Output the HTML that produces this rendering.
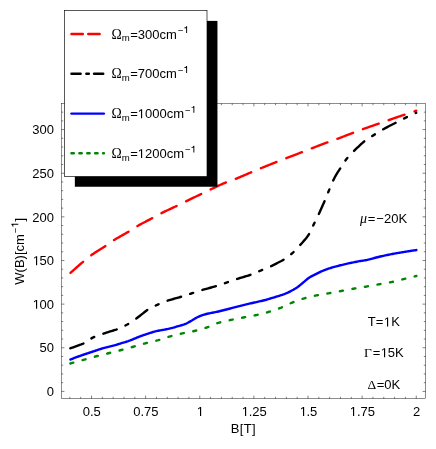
<!DOCTYPE html>
<html>
<head>
<meta charset="utf-8">
<title>W(B) plot</title>
<style>
html,body{margin:0;padding:0;background:#fff;}
body{width:436px;height:449px;overflow:hidden;font-family:"Liberation Sans", sans-serif;}
svg{display:block;will-change:transform;}
svg text{font-family:"Liberation Sans", sans-serif;font-size:13px;fill:#000;}
.tk path{stroke:#000;stroke-width:0.5;fill:none;}
.cv path{fill:none;stroke-width:2.4;stroke-linecap:round;stroke-linejoin:round;}
</style>
</head>
<body>
<svg width="436" height="449" viewBox="0 0 436 449">
<rect x="0" y="0" width="436" height="449" fill="#fff"/>

<!-- curves -->
<g class="cv">
<path d="M70.50 272.90 L71.50 271.98 L72.50 271.07 L73.50 270.17 L74.50 269.27 L75.50 268.38 L76.50 267.49 L77.50 266.61 L78.50 265.74 L79.50 264.87 L80.50 264.01 L81.50 263.16 L82.50 262.31 L83.50 261.46 L84.50 260.62 L85.50 259.77 L86.50 258.93 L87.50 258.10 L88.50 257.29 L89.50 256.50 L90.50 255.75 L91.50 255.03 L92.50 254.33 L93.50 253.65 L94.50 252.98 L95.50 252.33 L96.50 251.69 L97.50 251.06 L98.50 250.44 L99.50 249.82 L100.50 249.20 L101.50 248.57 L102.50 247.95 L103.50 247.31 L104.50 246.66 L105.50 246.00 L106.50 245.33 L107.50 244.63 L108.50 243.91 L109.50 243.19 L110.50 242.47 L111.50 241.76 L112.50 241.08 L113.50 240.43 L114.50 239.80 L115.50 239.19 L116.50 238.59 L117.50 238.00 L118.50 237.42 L119.50 236.85 L120.50 236.29 L121.50 235.73 L122.50 235.17 L123.50 234.61 L124.50 234.04 L125.50 233.47 L126.50 232.89 L127.50 232.31 L128.50 231.71 L129.50 231.10 L130.50 230.46 L131.50 229.81 L132.50 229.14 L133.50 228.48 L134.50 227.83 L135.50 227.20 L136.50 226.60 L137.50 226.02 L138.50 225.45 L139.50 224.89 L140.50 224.34 L141.50 223.80 L142.50 223.27 L143.50 222.74 L144.50 222.21 L145.50 221.69 L146.50 221.17 L147.50 220.66 L148.50 220.14 L149.50 219.61 L150.50 219.09 L151.50 218.56 L152.50 218.02 L153.50 217.48 L154.50 216.92 L155.50 216.36 L156.50 215.80 L157.50 215.24 L158.50 214.70 L159.50 214.16 L160.50 213.64 L161.50 213.14 L162.50 212.64 L163.50 212.15 L164.50 211.67 L165.50 211.19 L166.50 210.71 L167.50 210.25 L168.50 209.78 L169.50 209.32 L170.50 208.85 L171.50 208.39 L172.50 207.93 L173.50 207.46 L174.50 207.00 L175.50 206.52 L176.50 206.05 L177.50 205.57 L178.50 205.08 L179.50 204.58 L180.50 204.08 L181.50 203.58 L182.50 203.07 L183.50 202.57 L184.50 202.08 L185.50 201.59 L186.50 201.09 L187.50 200.61 L188.50 200.12 L189.50 199.63 L190.50 199.14 L191.50 198.66 L192.50 198.18 L193.50 197.69 L194.50 197.21 L195.50 196.73 L196.50 196.25 L197.50 195.77 L198.50 195.30 L199.50 194.82 L200.50 194.34 L201.50 193.87 L202.50 193.39 L203.50 192.91 L204.50 192.43 L205.50 191.95 L206.50 191.46 L207.50 190.97 L208.50 190.48 L209.50 189.99 L210.50 189.51 L211.50 189.02 L212.50 188.53 L213.50 188.05 L214.50 187.57 L215.50 187.09 L216.50 186.61 L217.50 186.14 L218.50 185.68 L219.50 185.22 L220.50 184.76 L221.50 184.32 L222.50 183.88 L223.50 183.44 L224.50 183.02 L225.50 182.60 L226.50 182.20 L227.50 181.81 L228.50 181.43 L229.50 181.08 L230.50 180.73 L231.50 180.39 L232.50 180.04 L233.50 179.68 L234.50 179.30 L235.50 178.92 L236.50 178.52 L237.50 178.12 L238.50 177.71 L239.50 177.30 L240.50 176.88 L241.50 176.46 L242.50 176.03 L243.50 175.61 L244.50 175.18 L245.50 174.75 L246.50 174.32 L247.50 173.88 L248.50 173.45 L249.50 173.02 L250.50 172.60 L251.50 172.17 L252.50 171.75 L253.50 171.33 L254.50 170.91 L255.50 170.48 L256.50 170.06 L257.50 169.64 L258.50 169.22 L259.50 168.81 L260.50 168.39 L261.50 167.99 L262.50 167.58 L263.50 167.17 L264.50 166.77 L265.50 166.36 L266.50 165.96 L267.50 165.56 L268.50 165.16 L269.50 164.76 L270.50 164.36 L271.50 163.96 L272.50 163.57 L273.50 163.17 L274.50 162.78 L275.50 162.38 L276.50 161.99 L277.50 161.60 L278.50 161.21 L279.50 160.82 L280.50 160.44 L281.50 160.05 L282.50 159.67 L283.50 159.29 L284.50 158.90 L285.50 158.51 L286.50 158.13 L287.50 157.74 L288.50 157.36 L289.50 156.97 L290.50 156.59 L291.50 156.20 L292.50 155.82 L293.50 155.43 L294.50 155.05 L295.50 154.66 L296.50 154.27 L297.50 153.89 L298.50 153.50 L299.50 153.11 L300.50 152.72 L301.50 152.33 L302.50 151.94 L303.50 151.55 L304.50 151.16 L305.50 150.77 L306.50 150.37 L307.50 149.98 L308.50 149.58 L309.50 149.19 L310.50 148.81 L311.50 148.42 L312.50 148.03 L313.50 147.65 L314.50 147.26 L315.50 146.88 L316.50 146.50 L317.50 146.12 L318.50 145.73 L319.50 145.35 L320.50 144.97 L321.50 144.60 L322.50 144.22 L323.50 143.84 L324.50 143.47 L325.50 143.10 L326.50 142.73 L327.50 142.36 L328.50 141.99 L329.50 141.63 L330.50 141.27 L331.50 140.91 L332.50 140.56 L333.50 140.21 L334.50 139.85 L335.50 139.49 L336.50 139.12 L337.50 138.76 L338.50 138.38 L339.50 138.01 L340.50 137.64 L341.50 137.26 L342.50 136.88 L343.50 136.50 L344.50 136.12 L345.50 135.74 L346.50 135.36 L347.50 134.97 L348.50 134.59 L349.50 134.21 L350.50 133.83 L351.50 133.45 L352.50 133.07 L353.50 132.69 L354.50 132.31 L355.50 131.93 L356.50 131.55 L357.50 131.17 L358.50 130.79 L359.50 130.42 L360.50 130.04 L361.50 129.67 L362.50 129.31 L363.50 128.95 L364.50 128.59 L365.50 128.23 L366.50 127.88 L367.50 127.52 L368.50 127.17 L369.50 126.82 L370.50 126.48 L371.50 126.13 L372.50 125.78 L373.50 125.43 L374.50 125.09 L375.50 124.74 L376.50 124.39 L377.50 124.04 L378.50 123.70 L379.50 123.35 L380.50 122.99 L381.50 122.64 L382.50 122.29 L383.50 121.94 L384.50 121.58 L385.50 121.23 L386.50 120.88 L387.50 120.53 L388.50 120.18 L389.50 119.83 L390.50 119.49 L391.50 119.14 L392.50 118.79 L393.50 118.45 L394.50 118.10 L395.50 117.76 L396.50 117.41 L397.50 117.07 L398.50 116.73 L399.50 116.38 L400.50 116.04 L401.50 115.70 L402.50 115.36 L403.50 115.02 L404.50 114.68 L405.50 114.34 L406.50 114.00 L407.50 113.66 L408.50 113.32 L409.50 112.98 L410.50 112.64 L411.50 112.31 L412.50 111.97 L413.50 111.64 L414.50 111.30 L415.50 110.97 L416.30 110.70" stroke="#ff0000" stroke-dasharray="16.8 10.5"/>
<path d="M70.30 348.35 L71.30 347.99 L72.30 347.63 L73.30 347.26 L74.30 346.90 L75.30 346.53 L76.30 346.16 L77.30 345.79 L78.30 345.43 L79.30 345.08 L80.30 344.73 L81.30 344.37 L82.30 343.98 L83.30 343.56 L84.30 343.10 L85.30 342.55 L86.30 341.92 L87.30 341.23 L88.30 340.51 L89.30 339.78 L90.30 339.08 L91.30 338.43 L92.30 337.85 L93.30 337.37 L94.30 336.93 L95.30 336.52 L96.30 336.14 L97.30 335.78 L98.30 335.43 L99.30 335.09 L100.30 334.75 L101.30 334.41 L102.30 334.06 L103.30 333.72 L104.30 333.38 L105.30 333.04 L106.30 332.71 L107.30 332.38 L108.30 332.05 L109.30 331.73 L110.30 331.40 L111.30 331.09 L112.30 330.78 L113.30 330.48 L114.30 330.18 L115.30 329.86 L116.30 329.53 L117.30 329.17 L118.30 328.79 L119.30 328.39 L120.30 327.97 L121.30 327.53 L122.30 327.07 L123.30 326.59 L124.30 326.10 L125.30 325.59 L126.30 325.06 L127.30 324.52 L128.30 323.94 L129.30 323.33 L130.30 322.70 L131.30 322.05 L132.30 321.38 L133.30 320.70 L134.30 320.00 L135.30 319.30 L136.30 318.57 L137.30 317.81 L138.30 317.03 L139.30 316.23 L140.30 315.44 L141.30 314.65 L142.30 313.87 L143.30 313.07 L144.30 312.27 L145.30 311.47 L146.30 310.72 L147.30 310.02 L148.30 309.39 L149.30 308.80 L150.30 308.24 L151.30 307.70 L152.30 307.19 L153.30 306.69 L154.30 306.21 L155.30 305.74 L156.30 305.28 L157.30 304.82 L158.30 304.36 L159.30 303.92 L160.30 303.48 L161.30 303.05 L162.30 302.63 L163.30 302.23 L164.30 301.84 L165.30 301.46 L166.30 301.10 L167.30 300.77 L168.30 300.45 L169.30 300.15 L170.30 299.85 L171.30 299.57 L172.30 299.29 L173.30 299.00 L174.30 298.71 L175.30 298.42 L176.30 298.14 L177.30 297.85 L178.30 297.57 L179.30 297.28 L180.30 296.99 L181.30 296.69 L182.30 296.39 L183.30 296.08 L184.30 295.76 L185.30 295.44 L186.30 295.12 L187.30 294.80 L188.30 294.47 L189.30 294.15 L190.30 293.82 L191.30 293.50 L192.30 293.18 L193.30 292.85 L194.30 292.52 L195.30 292.19 L196.30 291.85 L197.30 291.53 L198.30 291.20 L199.30 290.88 L200.30 290.57 L201.30 290.26 L202.30 289.96 L203.30 289.68 L204.30 289.39 L205.30 289.12 L206.30 288.84 L207.30 288.57 L208.30 288.29 L209.30 288.02 L210.30 287.74 L211.30 287.47 L212.30 287.20 L213.30 286.92 L214.30 286.64 L215.30 286.36 L216.30 286.06 L217.30 285.75 L218.30 285.43 L219.30 285.10 L220.30 284.76 L221.30 284.41 L222.30 284.06 L223.30 283.71 L224.30 283.36 L225.30 283.01 L226.30 282.67 L227.30 282.32 L228.30 281.97 L229.30 281.61 L230.30 281.26 L231.30 280.91 L232.30 280.55 L233.30 280.21 L234.30 279.86 L235.30 279.53 L236.30 279.20 L237.30 278.89 L238.30 278.58 L239.30 278.27 L240.30 277.97 L241.30 277.67 L242.30 277.37 L243.30 277.06 L244.30 276.76 L245.30 276.46 L246.30 276.16 L247.30 275.86 L248.30 275.56 L249.30 275.24 L250.30 274.91 L251.30 274.56 L252.30 274.18 L253.30 273.78 L254.30 273.36 L255.30 272.93 L256.30 272.49 L257.30 272.04 L258.30 271.60 L259.30 271.16 L260.30 270.73 L261.30 270.31 L262.30 269.90 L263.30 269.49 L264.30 269.08 L265.30 268.68 L266.30 268.27 L267.30 267.85 L268.30 267.42 L269.30 266.98 L270.30 266.53 L271.30 266.06 L272.30 265.57 L273.30 265.08 L274.30 264.58 L275.30 264.07 L276.30 263.56 L277.30 263.05 L278.30 262.54 L279.30 262.04 L280.30 261.53 L281.30 261.01 L282.30 260.46 L283.30 259.89 L284.30 259.27 L285.30 258.62 L286.30 257.94 L287.30 257.22 L288.30 256.47 L289.30 255.69 L290.30 254.88 L291.30 254.04 L292.30 253.18 L293.30 252.27 L294.30 251.30 L295.30 250.27 L296.30 249.21 L297.30 248.12 L298.30 247.02 L299.30 245.93 L300.30 244.86 L301.30 243.79 L302.30 242.70 L303.30 241.57 L304.30 240.39 L305.30 239.19 L306.30 237.96 L307.30 236.66 L308.30 235.25 L309.30 233.70 L310.30 231.88 L311.30 229.78 L312.30 227.56 L313.30 225.35 L314.30 223.26 L315.30 221.22 L316.30 219.19 L317.30 217.14 L318.30 215.05 L319.30 212.91 L320.30 210.74 L321.30 208.53 L322.30 206.30 L323.30 204.03 L324.30 201.73 L325.30 199.38 L326.30 196.97 L327.30 194.52 L328.30 192.07 L329.30 189.63 L330.30 187.15 L331.30 184.70 L332.30 182.38 L333.30 180.23 L334.30 178.21 L335.30 176.31 L336.30 174.53 L337.30 172.89 L338.30 171.35 L339.30 169.86 L340.30 168.35 L341.30 166.80 L342.30 165.20 L343.30 163.61 L344.30 162.06 L345.30 160.59 L346.30 159.23 L347.30 157.99 L348.30 156.83 L349.30 155.72 L350.30 154.66 L351.30 153.63 L352.30 152.61 L353.30 151.60 L354.30 150.59 L355.30 149.61 L356.30 148.64 L357.30 147.70 L358.30 146.76 L359.30 145.84 L360.30 144.91 L361.30 143.98 L362.30 143.08 L363.30 142.21 L364.30 141.39 L365.30 140.62 L366.30 139.90 L367.30 139.21 L368.30 138.55 L369.30 137.90 L370.30 137.27 L371.30 136.65 L372.30 136.02 L373.30 135.39 L374.30 134.75 L375.30 134.11 L376.30 133.47 L377.30 132.84 L378.30 132.21 L379.30 131.59 L380.30 130.98 L381.30 130.38 L382.30 129.80 L383.30 129.23 L384.30 128.68 L385.30 128.13 L386.30 127.60 L387.30 127.07 L388.30 126.55 L389.30 126.03 L390.30 125.51 L391.30 125.00 L392.30 124.49 L393.30 123.99 L394.30 123.48 L395.30 122.96 L396.30 122.45 L397.30 121.93 L398.30 121.41 L399.30 120.89 L400.30 120.37 L401.30 119.86 L402.30 119.34 L403.30 118.84 L404.30 118.34 L405.30 117.85 L406.30 117.36 L407.30 116.88 L408.30 116.41 L409.30 115.93 L410.30 115.47 L411.30 115.00 L412.30 114.54 L413.30 114.09 L414.30 113.64 L415.30 113.20 L416.20 112.80" stroke="#000000" stroke-dasharray="14 9.5 3.2 9.7"/>
<path d="M70.35 359.55 L71.35 359.15 L72.35 358.76 L73.35 358.37 L74.35 357.99 L75.35 357.61 L76.35 357.24 L77.35 356.87 L78.35 356.50 L79.35 356.15 L80.35 355.79 L81.35 355.45 L82.35 355.10 L83.35 354.76 L84.35 354.43 L85.35 354.09 L86.35 353.76 L87.35 353.43 L88.35 353.10 L89.35 352.76 L90.35 352.43 L91.35 352.10 L92.35 351.76 L93.35 351.42 L94.35 351.08 L95.35 350.74 L96.35 350.40 L97.35 350.06 L98.35 349.73 L99.35 349.40 L100.35 349.08 L101.35 348.76 L102.35 348.46 L103.35 348.16 L104.35 347.88 L105.35 347.61 L106.35 347.36 L107.35 347.11 L108.35 346.86 L109.35 346.62 L110.35 346.38 L111.35 346.14 L112.35 345.89 L113.35 345.64 L114.35 345.38 L115.35 345.11 L116.35 344.82 L117.35 344.51 L118.35 344.20 L119.35 343.87 L120.35 343.54 L121.35 343.22 L122.35 342.90 L123.35 342.60 L124.35 342.32 L125.35 342.03 L126.35 341.74 L127.35 341.43 L128.35 341.10 L129.35 340.74 L130.35 340.36 L131.35 339.95 L132.35 339.53 L133.35 339.11 L134.35 338.69 L135.35 338.29 L136.35 337.87 L137.35 337.46 L138.35 337.04 L139.35 336.64 L140.35 336.25 L141.35 335.89 L142.35 335.54 L143.35 335.20 L144.35 334.87 L145.35 334.55 L146.35 334.23 L147.35 333.90 L148.35 333.57 L149.35 333.23 L150.35 332.89 L151.35 332.57 L152.35 332.25 L153.35 331.96 L154.35 331.69 L155.35 331.43 L156.35 331.18 L157.35 330.94 L158.35 330.71 L159.35 330.50 L160.35 330.31 L161.35 330.13 L162.35 329.97 L163.35 329.81 L164.35 329.65 L165.35 329.47 L166.35 329.28 L167.35 329.08 L168.35 328.86 L169.35 328.64 L170.35 328.41 L171.35 328.17 L172.35 327.91 L173.35 327.64 L174.35 327.34 L175.35 327.03 L176.35 326.71 L177.35 326.40 L178.35 326.09 L179.35 325.81 L180.35 325.54 L181.35 325.28 L182.35 325.00 L183.35 324.71 L184.35 324.38 L185.35 323.99 L186.35 323.54 L187.35 323.03 L188.35 322.48 L189.35 321.92 L190.35 321.36 L191.35 320.80 L192.35 320.20 L193.35 319.58 L194.35 318.96 L195.35 318.35 L196.35 317.78 L197.35 317.28 L198.35 316.81 L199.35 316.37 L200.35 315.95 L201.35 315.56 L202.35 315.20 L203.35 314.87 L204.35 314.56 L205.35 314.28 L206.35 314.01 L207.35 313.77 L208.35 313.53 L209.35 313.31 L210.35 313.09 L211.35 312.90 L212.35 312.72 L213.35 312.54 L214.35 312.36 L215.35 312.16 L216.35 311.95 L217.35 311.73 L218.35 311.51 L219.35 311.27 L220.35 311.03 L221.35 310.78 L222.35 310.53 L223.35 310.28 L224.35 310.02 L225.35 309.76 L226.35 309.50 L227.35 309.25 L228.35 308.99 L229.35 308.73 L230.35 308.47 L231.35 308.20 L232.35 307.93 L233.35 307.66 L234.35 307.38 L235.35 307.11 L236.35 306.84 L237.35 306.57 L238.35 306.30 L239.35 306.04 L240.35 305.79 L241.35 305.54 L242.35 305.30 L243.35 305.06 L244.35 304.82 L245.35 304.59 L246.35 304.36 L247.35 304.13 L248.35 303.90 L249.35 303.68 L250.35 303.45 L251.35 303.22 L252.35 302.99 L253.35 302.76 L254.35 302.53 L255.35 302.31 L256.35 302.08 L257.35 301.86 L258.35 301.64 L259.35 301.42 L260.35 301.20 L261.35 300.97 L262.35 300.74 L263.35 300.50 L264.35 300.25 L265.35 299.99 L266.35 299.73 L267.35 299.44 L268.35 299.14 L269.35 298.83 L270.35 298.52 L271.35 298.21 L272.35 297.90 L273.35 297.61 L274.35 297.31 L275.35 297.01 L276.35 296.71 L277.35 296.41 L278.35 296.10 L279.35 295.78 L280.35 295.46 L281.35 295.14 L282.35 294.81 L283.35 294.46 L284.35 294.09 L285.35 293.69 L286.35 293.26 L287.35 292.81 L288.35 292.34 L289.35 291.84 L290.35 291.33 L291.35 290.81 L292.35 290.28 L293.35 289.73 L294.35 289.15 L295.35 288.55 L296.35 287.91 L297.35 287.25 L298.35 286.52 L299.35 285.73 L300.35 284.91 L301.35 284.06 L302.35 283.22 L303.35 282.39 L304.35 281.56 L305.35 280.70 L306.35 279.84 L307.35 279.00 L308.35 278.21 L309.35 277.51 L310.35 276.90 L311.35 276.35 L312.35 275.85 L313.35 275.37 L314.35 274.90 L315.35 274.42 L316.35 273.92 L317.35 273.41 L318.35 272.90 L319.35 272.39 L320.35 271.90 L321.35 271.43 L322.35 270.99 L323.35 270.57 L324.35 270.17 L325.35 269.78 L326.35 269.41 L327.35 269.05 L328.35 268.70 L329.35 268.37 L330.35 268.04 L331.35 267.73 L332.35 267.43 L333.35 267.13 L334.35 266.85 L335.35 266.57 L336.35 266.30 L337.35 266.04 L338.35 265.79 L339.35 265.53 L340.35 265.29 L341.35 265.04 L342.35 264.79 L343.35 264.55 L344.35 264.31 L345.35 264.07 L346.35 263.84 L347.35 263.62 L348.35 263.40 L349.35 263.18 L350.35 262.97 L351.35 262.77 L352.35 262.56 L353.35 262.36 L354.35 262.16 L355.35 261.96 L356.35 261.76 L357.35 261.56 L358.35 261.38 L359.35 261.19 L360.35 261.02 L361.35 260.87 L362.35 260.72 L363.35 260.57 L364.35 260.42 L365.35 260.25 L366.35 260.06 L367.35 259.85 L368.35 259.62 L369.35 259.38 L370.35 259.12 L371.35 258.85 L372.35 258.58 L373.35 258.30 L374.35 258.03 L375.35 257.75 L376.35 257.49 L377.35 257.23 L378.35 256.99 L379.35 256.75 L380.35 256.52 L381.35 256.29 L382.35 256.06 L383.35 255.84 L384.35 255.62 L385.35 255.40 L386.35 255.18 L387.35 254.97 L388.35 254.76 L389.35 254.56 L390.35 254.36 L391.35 254.16 L392.35 253.97 L393.35 253.78 L394.35 253.60 L395.35 253.42 L396.35 253.24 L397.35 253.07 L398.35 252.90 L399.35 252.72 L400.35 252.56 L401.35 252.39 L402.35 252.22 L403.35 252.06 L404.35 251.89 L405.35 251.73 L406.35 251.57 L407.35 251.41 L408.35 251.26 L409.35 251.10 L410.35 250.95 L411.35 250.79 L412.35 250.64 L413.35 250.49 L414.35 250.35 L415.35 250.20 L416.35 250.06 L416.40 250.05" stroke="#0000ff"/>
<path d="M70.35 363.50 L71.35 363.20 L72.35 362.91 L73.35 362.63 L74.35 362.36 L75.35 362.08 L76.35 361.81 L77.35 361.54 L78.35 361.27 L79.35 361.01 L80.35 360.74 L81.35 360.47 L82.35 360.20 L83.35 359.92 L84.35 359.65 L85.35 359.37 L86.35 359.08 L87.35 358.79 L88.35 358.51 L89.35 358.22 L90.35 357.93 L91.35 357.64 L92.35 357.36 L93.35 357.08 L94.35 356.80 L95.35 356.53 L96.35 356.26 L97.35 356.00 L98.35 355.74 L99.35 355.49 L100.35 355.23 L101.35 354.99 L102.35 354.74 L103.35 354.49 L104.35 354.25 L105.35 354.00 L106.35 353.76 L107.35 353.51 L108.35 353.26 L109.35 353.01 L110.35 352.76 L111.35 352.52 L112.35 352.27 L113.35 352.02 L114.35 351.78 L115.35 351.53 L116.35 351.28 L117.35 351.03 L118.35 350.78 L119.35 350.53 L120.35 350.27 L121.35 350.01 L122.35 349.75 L123.35 349.48 L124.35 349.21 L125.35 348.94 L126.35 348.67 L127.35 348.40 L128.35 348.12 L129.35 347.84 L130.35 347.57 L131.35 347.29 L132.35 347.01 L133.35 346.73 L134.35 346.45 L135.35 346.16 L136.35 345.86 L137.35 345.57 L138.35 345.27 L139.35 344.98 L140.35 344.68 L141.35 344.39 L142.35 344.11 L143.35 343.83 L144.35 343.55 L145.35 343.29 L146.35 343.03 L147.35 342.79 L148.35 342.55 L149.35 342.32 L150.35 342.09 L151.35 341.87 L152.35 341.64 L153.35 341.41 L154.35 341.18 L155.35 340.93 L156.35 340.68 L157.35 340.42 L158.35 340.15 L159.35 339.85 L160.35 339.54 L161.35 339.22 L162.35 338.88 L163.35 338.54 L164.35 338.20 L165.35 337.87 L166.35 337.54 L167.35 337.21 L168.35 336.91 L169.35 336.61 L170.35 336.34 L171.35 336.06 L172.35 335.79 L173.35 335.53 L174.35 335.27 L175.35 335.02 L176.35 334.77 L177.35 334.53 L178.35 334.29 L179.35 334.05 L180.35 333.82 L181.35 333.59 L182.35 333.37 L183.35 333.15 L184.35 332.95 L185.35 332.75 L186.35 332.56 L187.35 332.38 L188.35 332.19 L189.35 332.00 L190.35 331.81 L191.35 331.62 L192.35 331.42 L193.35 331.21 L194.35 330.98 L195.35 330.74 L196.35 330.50 L197.35 330.24 L198.35 329.98 L199.35 329.70 L200.35 329.42 L201.35 329.13 L202.35 328.84 L203.35 328.53 L204.35 328.22 L205.35 327.90 L206.35 327.58 L207.35 327.25 L208.35 326.89 L209.35 326.50 L210.35 326.09 L211.35 325.67 L212.35 325.25 L213.35 324.82 L214.35 324.40 L215.35 323.99 L216.35 323.60 L217.35 323.23 L218.35 322.90 L219.35 322.60 L220.35 322.32 L221.35 322.06 L222.35 321.80 L223.35 321.56 L224.35 321.33 L225.35 321.11 L226.35 320.89 L227.35 320.67 L228.35 320.46 L229.35 320.25 L230.35 320.04 L231.35 319.83 L232.35 319.62 L233.35 319.41 L234.35 319.21 L235.35 319.01 L236.35 318.81 L237.35 318.61 L238.35 318.42 L239.35 318.23 L240.35 318.04 L241.35 317.85 L242.35 317.66 L243.35 317.47 L244.35 317.28 L245.35 317.09 L246.35 316.91 L247.35 316.73 L248.35 316.56 L249.35 316.38 L250.35 316.21 L251.35 316.03 L252.35 315.84 L253.35 315.65 L254.35 315.46 L255.35 315.26 L256.35 315.05 L257.35 314.83 L258.35 314.60 L259.35 314.37 L260.35 314.13 L261.35 313.89 L262.35 313.64 L263.35 313.38 L264.35 313.12 L265.35 312.85 L266.35 312.58 L267.35 312.30 L268.35 312.01 L269.35 311.72 L270.35 311.42 L271.35 311.12 L272.35 310.80 L273.35 310.48 L274.35 310.15 L275.35 309.81 L276.35 309.46 L277.35 309.10 L278.35 308.74 L279.35 308.36 L280.35 307.98 L281.35 307.58 L282.35 307.15 L283.35 306.70 L284.35 306.23 L285.35 305.75 L286.35 305.27 L287.35 304.79 L288.35 304.31 L289.35 303.84 L290.35 303.38 L291.35 302.95 L292.35 302.54 L293.35 302.14 L294.35 301.75 L295.35 301.36 L296.35 300.98 L297.35 300.61 L298.35 300.25 L299.35 299.89 L300.35 299.55 L301.35 299.21 L302.35 298.89 L303.35 298.59 L304.35 298.30 L305.35 298.02 L306.35 297.75 L307.35 297.49 L308.35 297.23 L309.35 296.98 L310.35 296.74 L311.35 296.51 L312.35 296.28 L313.35 296.06 L314.35 295.85 L315.35 295.64 L316.35 295.43 L317.35 295.23 L318.35 295.04 L319.35 294.86 L320.35 294.68 L321.35 294.51 L322.35 294.34 L323.35 294.17 L324.35 294.01 L325.35 293.84 L326.35 293.67 L327.35 293.51 L328.35 293.33 L329.35 293.16 L330.35 292.97 L331.35 292.79 L332.35 292.61 L333.35 292.43 L334.35 292.24 L335.35 292.06 L336.35 291.87 L337.35 291.69 L338.35 291.50 L339.35 291.32 L340.35 291.13 L341.35 290.95 L342.35 290.76 L343.35 290.57 L344.35 290.39 L345.35 290.20 L346.35 290.01 L347.35 289.82 L348.35 289.63 L349.35 289.44 L350.35 289.26 L351.35 289.07 L352.35 288.89 L353.35 288.71 L354.35 288.54 L355.35 288.37 L356.35 288.20 L357.35 288.03 L358.35 287.87 L359.35 287.71 L360.35 287.54 L361.35 287.38 L362.35 287.22 L363.35 287.06 L364.35 286.89 L365.35 286.73 L366.35 286.56 L367.35 286.39 L368.35 286.22 L369.35 286.04 L370.35 285.87 L371.35 285.69 L372.35 285.51 L373.35 285.34 L374.35 285.16 L375.35 284.98 L376.35 284.80 L377.35 284.62 L378.35 284.44 L379.35 284.25 L380.35 284.08 L381.35 283.90 L382.35 283.72 L383.35 283.55 L384.35 283.37 L385.35 283.19 L386.35 283.01 L387.35 282.83 L388.35 282.64 L389.35 282.45 L390.35 282.26 L391.35 282.05 L392.35 281.84 L393.35 281.62 L394.35 281.39 L395.35 281.15 L396.35 280.91 L397.35 280.66 L398.35 280.41 L399.35 280.16 L400.35 279.91 L401.35 279.66 L402.35 279.41 L403.35 279.16 L404.35 278.91 L405.35 278.67 L406.35 278.42 L407.35 278.16 L408.35 277.91 L409.35 277.66 L410.35 277.41 L411.35 277.16 L412.35 276.91 L413.35 276.67 L414.35 276.44 L415.35 276.22 L416.35 276.01 L416.40 276.00" stroke="#008600" stroke-dasharray="3.1 9.61"/>
</g>

<!-- frame -->
<rect x="61.5" y="103.5" width="364.0" height="295.0" fill="none" stroke="#000" stroke-width="0.45"/>
<g class="tk">
<path d="M69.85 398.5 v-1.7"/>
<path d="M69.85 103.5 v1.7"/>
<path d="M80.67 398.5 v-1.7"/>
<path d="M80.67 103.5 v1.7"/>
<path d="M91.50 398.5 v-2.9"/>
<path d="M91.50 103.5 v2.9"/>
<path d="M102.33 398.5 v-1.7"/>
<path d="M102.33 103.5 v1.7"/>
<path d="M113.15 398.5 v-1.7"/>
<path d="M113.15 103.5 v1.7"/>
<path d="M123.97 398.5 v-1.7"/>
<path d="M123.97 103.5 v1.7"/>
<path d="M134.80 398.5 v-1.7"/>
<path d="M134.80 103.5 v1.7"/>
<path d="M145.62 398.5 v-2.9"/>
<path d="M145.62 103.5 v2.9"/>
<path d="M156.45 398.5 v-1.7"/>
<path d="M156.45 103.5 v1.7"/>
<path d="M167.28 398.5 v-1.7"/>
<path d="M167.28 103.5 v1.7"/>
<path d="M178.10 398.5 v-1.7"/>
<path d="M178.10 103.5 v1.7"/>
<path d="M188.93 398.5 v-1.7"/>
<path d="M188.93 103.5 v1.7"/>
<path d="M199.75 398.5 v-2.9"/>
<path d="M199.75 103.5 v2.9"/>
<path d="M210.57 398.5 v-1.7"/>
<path d="M210.57 103.5 v1.7"/>
<path d="M221.40 398.5 v-1.7"/>
<path d="M221.40 103.5 v1.7"/>
<path d="M232.22 398.5 v-1.7"/>
<path d="M232.22 103.5 v1.7"/>
<path d="M243.05 398.5 v-1.7"/>
<path d="M243.05 103.5 v1.7"/>
<path d="M253.88 398.5 v-2.9"/>
<path d="M253.88 103.5 v2.9"/>
<path d="M264.70 398.5 v-1.7"/>
<path d="M264.70 103.5 v1.7"/>
<path d="M275.52 398.5 v-1.7"/>
<path d="M275.52 103.5 v1.7"/>
<path d="M286.35 398.5 v-1.7"/>
<path d="M286.35 103.5 v1.7"/>
<path d="M297.18 398.5 v-1.7"/>
<path d="M297.18 103.5 v1.7"/>
<path d="M308.00 398.5 v-2.9"/>
<path d="M308.00 103.5 v2.9"/>
<path d="M318.83 398.5 v-1.7"/>
<path d="M318.83 103.5 v1.7"/>
<path d="M329.65 398.5 v-1.7"/>
<path d="M329.65 103.5 v1.7"/>
<path d="M340.48 398.5 v-1.7"/>
<path d="M340.48 103.5 v1.7"/>
<path d="M351.30 398.5 v-1.7"/>
<path d="M351.30 103.5 v1.7"/>
<path d="M362.12 398.5 v-2.9"/>
<path d="M362.12 103.5 v2.9"/>
<path d="M372.95 398.5 v-1.7"/>
<path d="M372.95 103.5 v1.7"/>
<path d="M383.78 398.5 v-1.7"/>
<path d="M383.78 103.5 v1.7"/>
<path d="M394.60 398.5 v-1.7"/>
<path d="M394.60 103.5 v1.7"/>
<path d="M405.43 398.5 v-1.7"/>
<path d="M405.43 103.5 v1.7"/>
<path d="M416.25 398.5 v-2.9"/>
<path d="M416.25 103.5 v2.9"/>
<path d="M61.5 391.40 h2.9"/>
<path d="M425.5 391.40 h-2.9"/>
<path d="M61.5 382.67 h1.7"/>
<path d="M425.5 382.67 h-1.7"/>
<path d="M61.5 373.95 h1.7"/>
<path d="M425.5 373.95 h-1.7"/>
<path d="M61.5 365.22 h1.7"/>
<path d="M425.5 365.22 h-1.7"/>
<path d="M61.5 356.49 h1.7"/>
<path d="M425.5 356.49 h-1.7"/>
<path d="M61.5 347.76 h2.9"/>
<path d="M425.5 347.76 h-2.9"/>
<path d="M61.5 339.04 h1.7"/>
<path d="M425.5 339.04 h-1.7"/>
<path d="M61.5 330.31 h1.7"/>
<path d="M425.5 330.31 h-1.7"/>
<path d="M61.5 321.58 h1.7"/>
<path d="M425.5 321.58 h-1.7"/>
<path d="M61.5 312.86 h1.7"/>
<path d="M425.5 312.86 h-1.7"/>
<path d="M61.5 304.13 h2.9"/>
<path d="M425.5 304.13 h-2.9"/>
<path d="M61.5 295.40 h1.7"/>
<path d="M425.5 295.40 h-1.7"/>
<path d="M61.5 286.68 h1.7"/>
<path d="M425.5 286.68 h-1.7"/>
<path d="M61.5 277.95 h1.7"/>
<path d="M425.5 277.95 h-1.7"/>
<path d="M61.5 269.22 h1.7"/>
<path d="M425.5 269.22 h-1.7"/>
<path d="M61.5 260.50 h2.9"/>
<path d="M425.5 260.50 h-2.9"/>
<path d="M61.5 251.77 h1.7"/>
<path d="M425.5 251.77 h-1.7"/>
<path d="M61.5 243.04 h1.7"/>
<path d="M425.5 243.04 h-1.7"/>
<path d="M61.5 234.31 h1.7"/>
<path d="M425.5 234.31 h-1.7"/>
<path d="M61.5 225.59 h1.7"/>
<path d="M425.5 225.59 h-1.7"/>
<path d="M61.5 216.86 h2.9"/>
<path d="M425.5 216.86 h-2.9"/>
<path d="M61.5 208.13 h1.7"/>
<path d="M425.5 208.13 h-1.7"/>
<path d="M61.5 199.41 h1.7"/>
<path d="M425.5 199.41 h-1.7"/>
<path d="M61.5 190.68 h1.7"/>
<path d="M425.5 190.68 h-1.7"/>
<path d="M61.5 181.95 h1.7"/>
<path d="M425.5 181.95 h-1.7"/>
<path d="M61.5 173.22 h2.9"/>
<path d="M425.5 173.22 h-2.9"/>
<path d="M61.5 164.50 h1.7"/>
<path d="M425.5 164.50 h-1.7"/>
<path d="M61.5 155.77 h1.7"/>
<path d="M425.5 155.77 h-1.7"/>
<path d="M61.5 147.04 h1.7"/>
<path d="M425.5 147.04 h-1.7"/>
<path d="M61.5 138.32 h1.7"/>
<path d="M425.5 138.32 h-1.7"/>
<path d="M61.5 129.59 h2.9"/>
<path d="M425.5 129.59 h-2.9"/>
<path d="M61.5 120.86 h1.7"/>
<path d="M425.5 120.86 h-1.7"/>
<path d="M61.5 112.14 h1.7"/>
<path d="M425.5 112.14 h-1.7"/>
</g>

<!-- tick labels -->
<g>
<text x="82.76" y="416.00">0.5</text>
<text x="133.27" y="416.00">0.75</text>
<path d="M515 0 V1237 L197 1010 V1180 L530 1409 H696 V0 Z" transform="translate(196.73 416.00) scale(0.006348 -0.006348)"/>
<path d="M515 0 V1237 L197 1010 V1180 L530 1409 H696 V0 Z" transform="translate(241.73 416.00) scale(0.006348 -0.006348)"/><text x="248.75" y="416.00">.25</text>
<path d="M515 0 V1237 L197 1010 V1180 L530 1409 H696 V0 Z" transform="translate(299.73 416.00) scale(0.006348 -0.006348)"/><text x="306.49" y="416.00">.5</text>
<path d="M515 0 V1237 L197 1010 V1180 L530 1409 H696 V0 Z" transform="translate(349.73 416.00) scale(0.006348 -0.006348)"/><text x="357.00" y="416.00">.75</text>
<text x="412.94" y="416.00">2</text>
<text x="46.77" y="396.10">0</text>
<text x="39.54" y="352.46">50</text>
<path d="M515 0 V1237 L197 1010 V1180 L530 1409 H696 V0 Z" transform="translate(32.73 308.83) scale(0.006348 -0.006348)"/><text x="39.54" y="308.83">00</text>
<path d="M515 0 V1237 L197 1010 V1180 L530 1409 H696 V0 Z" transform="translate(32.73 265.19) scale(0.006348 -0.006348)"/><text x="39.54" y="265.19">50</text>
<text x="32.31" y="221.56">200</text>
<text x="32.31" y="177.92">250</text>
<text x="32.31" y="134.29">300</text>
</g>

<!-- axis labels -->
<text x="243.2" y="433" text-anchor="middle">B<tspan dx="0.5">[</tspan><tspan dx="0.3">T</tspan><tspan dx="0.4">]</tspan></text>
<g transform="translate(23.8 251.3) rotate(-90)"><text x="-33.40" y="0">W(B)[cm</text><text x="18.14" y="-4.70" style="font-size:9.6px">−</text><path d="M0.15 -4.95 V-5.65 C1.25 -5.7 1.95 -6.15 2.15 -6.9 H3.0 V0 H2.05 V-4.95 Z" transform="translate(24.49 -5.50)" fill="#000"/><text x="29.79" y="0">]</text></g>

<!-- annotations -->
<text x="383.6" y="222.6" text-anchor="middle"><tspan font-family='"Liberation Serif", serif' font-style="italic" font-size="14">μ</tspan><tspan dx="0.5">=</tspan><tspan dx="1.1">−20K</tspan></text>
<text x="367.68" y="326.45">T</text><text x="375.82" y="326.45">=</text><path d="M515 0 V1237 L197 1010 V1180 L530 1409 H696 V0 Z" transform="translate(383.73 326.45) scale(0.006348 -0.006348)"/><text x="391.25" y="326.45">K</text>
<text x="364.04" y="357.2" style="font-family:'Liberation Serif',serif;font-size:13.5px">Γ</text><text x="372.84" y="357.20">=</text><path d="M515 0 V1237 L197 1010 V1180 L530 1409 H696 V0 Z" transform="translate(380.73 357.20) scale(0.006348 -0.006348)"/><text x="387.66" y="357.20">5K</text>
<text x="383.8" y="388.9" text-anchor="middle"><tspan font-family='"Liberation Serif", serif' font-size="13.5">Δ</tspan><tspan dx="0.6">=0K</tspan></text>

<!-- legend shadow + box -->
<rect x="74.85" y="20.9" width="142.6" height="165.85" fill="#000"/>
<rect x="64.5" y="10.5" width="142.5" height="166.0" fill="#fff" stroke="#000" stroke-width="0.65"/>
<g class="cv">
<path d="M71.45 33.95 H103.9" stroke="#ff0000" stroke-dasharray="11.4 5.4"/>
<path d="M71.45 73.7 H103.9" stroke="#000000" stroke-dasharray="9.2 5.7 2.5 5.2"/>
<path d="M71.45 113.62 H103.9" stroke="#0000ff"/>
<path d="M71.45 153.3 H103.9" stroke="#008600" stroke-dasharray="2.4 5.5"/>
</g>
<text transform="translate(111.50 38.60) scale(1 0.985)" style="font-family:'Liberation Serif',serif;font-size:13.8px">Ω</text><text x="121.83" y="41.20" style="font-size:9.6px">m</text><text x="130.13" y="38.60">=300cm</text><text x="177.74" y="33.90" style="font-size:9.6px">−</text><path d="M0.15 -4.95 V-5.65 C1.25 -5.7 1.95 -6.15 2.15 -6.9 H3.0 V0 H2.05 V-4.95 Z" transform="translate(184.10 33.10)" fill="#000"/>
<text transform="translate(111.50 78.40) scale(1 0.985)" style="font-family:'Liberation Serif',serif;font-size:13.8px">Ω</text><text x="121.83" y="81.00" style="font-size:9.6px">m</text><text x="130.13" y="78.40">=700cm</text><text x="177.74" y="73.70" style="font-size:9.6px">−</text><path d="M0.15 -4.95 V-5.65 C1.25 -5.7 1.95 -6.15 2.15 -6.9 H3.0 V0 H2.05 V-4.95 Z" transform="translate(184.10 72.90)" fill="#000"/>
<text transform="translate(111.50 118.30) scale(1 0.985)" style="font-family:'Liberation Serif',serif;font-size:13.8px">Ω</text><text x="121.83" y="120.90" style="font-size:9.6px">m</text><text x="130.13" y="118.30">=</text><path d="M515 0 V1237 L197 1010 V1180 L530 1409 H696 V0 Z" transform="translate(137.73 118.30) scale(0.006348 -0.006348)"/><text x="144.95" y="118.30">000cm</text><text x="184.97" y="113.60" style="font-size:9.6px">−</text><path d="M0.15 -4.95 V-5.65 C1.25 -5.7 1.95 -6.15 2.15 -6.9 H3.0 V0 H2.05 V-4.95 Z" transform="translate(191.33 112.80)" fill="#000"/>
<text transform="translate(111.50 158.10) scale(1 0.985)" style="font-family:'Liberation Serif',serif;font-size:13.8px">Ω</text><text x="121.83" y="160.70" style="font-size:9.6px">m</text><text x="130.13" y="158.10">=</text><path d="M515 0 V1237 L197 1010 V1180 L530 1409 H696 V0 Z" transform="translate(137.73 158.10) scale(0.006348 -0.006348)"/><text x="144.95" y="158.10">200cm</text><text x="184.97" y="153.40" style="font-size:9.6px">−</text><path d="M0.15 -4.95 V-5.65 C1.25 -5.7 1.95 -6.15 2.15 -6.9 H3.0 V0 H2.05 V-4.95 Z" transform="translate(191.33 152.60)" fill="#000"/>
</svg>
</body>
</html>
